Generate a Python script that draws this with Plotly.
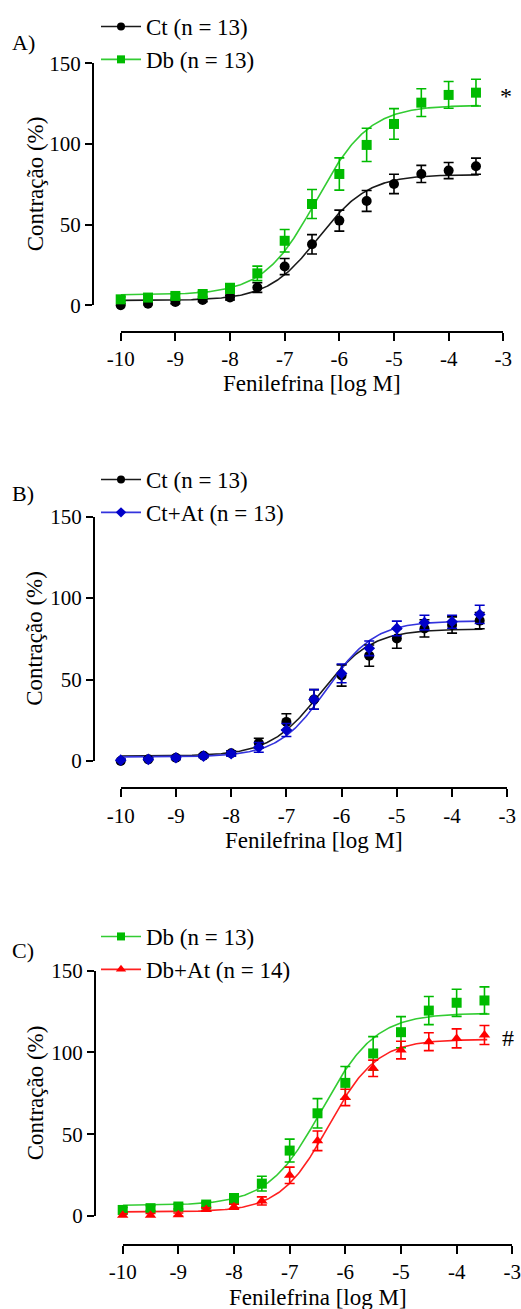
import numpy as np
import plotly.graph_objects as go

W, H = 521, 1309

# ---------------- data ----------------
log_conc = [-10, -9.5, -9, -8.5, -8, -7.5, -7, -6.5, -6, -5.5, -5, -4.5, -4, -3.5]

ct_mean = [0, 1, 2, 3.3, 4.8, 11, 24, 37.8, 52.5, 64.7, 75.2, 81.4, 83.5, 86.2]
ct_sem = [1, 1, 1, 1, 1.5, 3, 5, 6, 6.5, 6.5, 6, 5.3, 5, 5]

db_mean = [3.7, 4.8, 5.8, 7, 10.5, 19.8, 40, 62.8, 81.4, 99.4, 112.4, 125.6, 130.4, 131.8]
db_sem = [1.5, 1.5, 1.5, 1.5, 3, 4.5, 7, 9, 10, 10.3, 9.5, 8.6, 8.3, 8.3]

ctat_mean = [0.5, 1, 2, 3, 4.5, 8.4, 19, 37.8, 53.8, 69.2, 81.4, 85, 85.5, 90]
ctat_sem = [1, 1, 1, 1, 1.5, 3, 4, 6, 5.8, 4.5, 4.5, 4.5, 4, 5.6]

dbat_mean = [0.4, 0.5, 0.8, 4, 5.7, 9.2, 24.9, 46, 72.5, 90.3, 101.5, 106.6, 108.6, 110.7]
dbat_sem = [1, 1, 1, 1, 1.5, 2.5, 5, 6, 5, 5, 5.4, 5.5, 5.8, 5.8]

# fitted sigmoid parameters (bottom, top, logEC50, hill slope)
fit_ct = [3.0, 81.0, -6.38, 0.95]
fit_db = [6.5, 124.0, -6.42, 0.9]
fit_ctat = [2.5, 86.0, -6.27, 1.0]
fit_dbat = [2.5, 108.0, -6.3, 1.0]
curve_span = [-10, -3.45]

x_ticks = [-10, -9, -8, -7, -6, -5, -4, -3]
x_tick_text = ["-10", "-9", "-8", "-7", "-6", "-5", "-4", "-3"]
y_ticks = [0, 50, 100, 150]
y_tick_text = ["0", "50", "100", "150"]

names = {
    "ct": "Ct (n = 13)",
    "db": "Db (n = 13)",
    "ctat": "Ct+At (n = 13)",
    "dbat": "Db+At (n = 14)",
}

# ---------------- styles ----------------
FONT = "Liberation Serif"
styles = {
    "ct": dict(mc="#000000", lc="#1a1a1a", sym="circle", size=10, lsize=8),
    "db": dict(mc="#00bb00", lc="#33cc33", sym="square", size=10, lsize=8),
    "ctat": dict(mc="#0000c8", lc="#3333dd", sym="diamond", size=9, lsize=8),
    "dbat": dict(mc="#ff0000", lc="#ff2020", sym="triangle-up", size=10, lsize=9),
}
data = {
    "ct": (ct_mean, ct_sem, fit_ct),
    "db": (db_mean, db_sem, fit_db),
    "ctat": (ctat_mean, ctat_sem, fit_ctat),
    "dbat": (dbat_mean, dbat_sem, fit_dbat),
}

# panel geometry in pixels: y-axis x, x(-10), x(-3), y(150), y(0), x-axis y
panels = [
    dict(label="A)", series=["ct", "db"], geo=(93, 120.7, 503.3, 63.3, 305.3, 332),
         label_y=42, legend_y=5, mark="*", mark_xy=(506, 96), xt_y=383),
    dict(label="B)", series=["ct", "ctat"], geo=(94, 120.7, 507.3, 516.7, 761, 788.3),
         label_y=493, legend_y=458, mark=None, mark_xy=None, xt_y=840),
    dict(label="C)", series=["db", "dbat"], geo=(95, 122.7, 512.3, 970.7, 1216, 1245),
         label_y=950, legend_y=915, mark="#", mark_xy=(508, 1038), xt_y=1297),
]


def px(p):
    return p / W


def py(p):
    return 1 - p / H


def sigmoid(x, p):
    b, t, ec, h = p
    return b + (t - b) / (1 + 10 ** ((ec - x) * h))


fig = go.Figure()
annotations = []

for i, pan in enumerate(panels):
    k = "" if i == 0 else str(i + 1)
    xa, ya = "x" + k, "y" + k
    leg = "legend" + k
    yx, xl, xr, yt, y0, xy = pan["geo"]

    fig.update_layout({
        "xaxis" + k: dict(
            domain=[px(xl), px(xr)], range=[-10, -3], anchor="free", position=py(xy),
            showline=True, linecolor="black", linewidth=2, mirror=False,
            ticks="outside", ticklen=8, tickwidth=2, tickcolor="black",
            tickvals=x_ticks, ticktext=x_tick_text, showgrid=False, zeroline=False,
            ticklabeloverflow="allow",
            tickfont=dict(family=FONT, size=21, color="black"),
        ),
        "yaxis" + k: dict(
            domain=[py(y0), py(yt)], range=[0, 150], anchor="free", position=px(yx),
            showline=True, linecolor="black", linewidth=2,
            ticks="outside", ticklen=7, tickwidth=2, tickcolor="black",
            tickvals=y_ticks, ticktext=y_tick_text, showgrid=False, zeroline=False,
            ticklabeloverflow="allow",
            tickfont=dict(family=FONT, size=21, color="black"),
        ),
        leg: dict(
            x=px(96), y=py(pan["legend_y"]), xanchor="left", yanchor="top",
            bgcolor="rgba(0,0,0,0)", borderwidth=0, itemwidth=40,
            tracegroupgap=0,
            font=dict(family=FONT, size=23, color="black"),
        ),
    })

    for s in pan["series"]:
        mean, sem, fit = data[s]
        st = styles[s]
        xc = np.linspace(curve_span[0], curve_span[1], 300)
        fig.add_trace(go.Scatter(
            x=xc, y=sigmoid(xc, fit), mode="lines", xaxis=xa, yaxis=ya,
            line=dict(color=st["lc"], width=1.6), showlegend=False, hoverinfo="skip",
        ))
    for s in pan["series"]:
        mean, sem, fit = data[s]
        st = styles[s]
        fig.add_trace(go.Scatter(
            x=log_conc, y=mean, mode="markers", xaxis=xa, yaxis=ya,
            marker=dict(color=st["mc"], symbol=st["sym"], size=st["size"],
                        line=dict(width=0)),
            error_y=dict(type="data", array=sem, color=st["mc"], thickness=1.6, width=5),
            cliponaxis=False, showlegend=False,
        ))
        # legend entry (line + marker)
        fig.add_trace(go.Scatter(
            x=[None], y=[None], mode="lines+markers", xaxis=xa, yaxis=ya,
            name=names[s], legend=leg,
            line=dict(color=st["lc"], width=1.6),
            marker=dict(color=st["mc"], symbol=st["sym"], size=st["lsize"]),
        ))

    annotations.append(dict(
        text=pan["label"], x=px(10), y=py(pan["label_y"]), xref="paper", yref="paper",
        xanchor="left", yanchor="middle", showarrow=False,
        font=dict(family=FONT, size=22, color="black"),
    ))
    annotations.append(dict(
        text="Contração (%)", x=px(35), y=py((yt + y0) / 2), xref="paper", yref="paper",
        xanchor="center", yanchor="middle", textangle=-90, showarrow=False,
        font=dict(family=FONT, size=23, color="black"),
    ))
    annotations.append(dict(
        text="Fenilefrina [log M]", x=px((xl + xr) / 2), y=py(pan["xt_y"]),
        xref="paper", yref="paper", xanchor="center", yanchor="middle", showarrow=False,
        font=dict(family=FONT, size=23, color="black"),
    ))
    if pan["mark"]:
        mx, my = pan["mark_xy"]
        annotations.append(dict(
            text=pan["mark"], x=px(mx), y=py(my), xref="paper", yref="paper",
            xanchor="center", yanchor="middle", showarrow=False,
            font=dict(family=FONT, size=24, color="black"),
        ))

fig.update_layout(
    width=W, height=H, margin=dict(l=0, r=0, t=0, b=0, autoexpand=False),
    paper_bgcolor="white", plot_bgcolor="white",
    annotations=annotations, showlegend=True,
    font=dict(family=FONT, color="black"),
)

fig.write_html("out.html", config={"displayModeBar": False},
               post_script="document.body.style.margin='0';")
